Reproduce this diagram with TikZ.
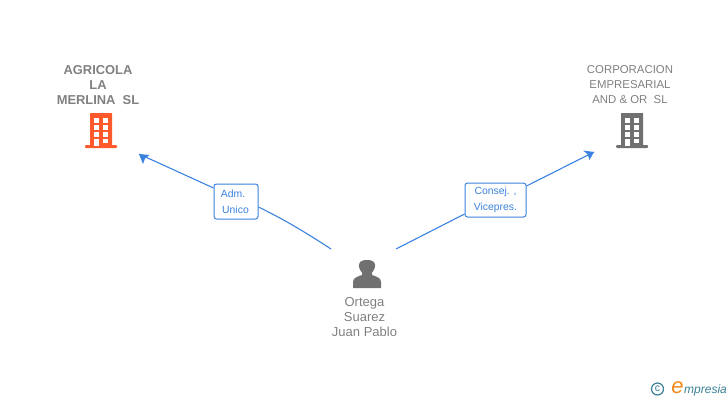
\documentclass[tikz,border=0pt]{standalone}
\usepackage{fontspec}
\setmainfont{Liberation Sans}
\definecolor{linkblue}{HTML}{3B82E0}
\definecolor{txtgrey}{HTML}{808080}
\definecolor{icongrey}{HTML}{707070}
\definecolor{orgorange}{HTML}{FF5A2B}
\definecolor{logoteal}{HTML}{3A7F96}
\definecolor{logoorange}{HTML}{F08A1D}
\tikzset{
  namelabel/.style={align=center,text=txtgrey,font=\fontsize{13}{15}\selectfont,inner sep=0pt},
  rolebox/.style={draw=linkblue,line width=1pt,rounded corners=2.5pt,fill=white,text=linkblue,align=center,font=\fontsize{10.4}{16}\selectfont,inner sep=0pt},
  conn/.style={draw=linkblue,line width=1.1pt},
  tip/.style={fill=linkblue,draw=none}
}
\newcommand{\bldg}[2]{%
  \begin{scope}[shift={(#1,113)}]
    \fill[#2,rounded corners=0.5pt] (5,0) rectangle (27,33);
    \fill[#2,rounded corners=1pt] (0,32) rectangle (32,35);
    \foreach \yy in {5,12,19}{
      \fill[white] (9,\yy) rectangle (14,\yy+4.5);
      \fill[white] (18,\yy) rectangle (23,\yy+4.5);}
    \fill[white] (9,25.5) rectangle (14,33);
    \fill[white] (18,25.5) rectangle (23,29.5);
  \end{scope}}
\begin{document}
\begin{tikzpicture}[x=1pt,y=-1pt]
\useasboundingbox (0,0) rectangle (728,400);
\node[namelabel,font=\bfseries\fontsize{12.9}{15}\selectfont] (agr) at (98,85) {AGRICOLA\\LA\\MERLINA\ \ SL};
\node[namelabel,font=\fontsize{11.4}{15}\selectfont] (corp) at (630,84.5) {CORPORACION\\EMPRESARIAL\\AND \& OR\ \ SL};
\node[namelabel] (per) at (364.5,317) {Ortega\\Suarez\\Juan Pablo};
\bldg{85}{orgorange}
\bldg{616}{icongrey}
% person
\fill[icongrey] (353,288) -- (353,282) .. controls (353,277.5) and (358,276.5) .. (362,275)
  -- (362,272.5) .. controls (359.5,270) and (358.5,266) .. (359,264.5)
  .. controls (359.5,261) and (363,260) .. (367,260)
  .. controls (371,260) and (374.5,261) .. (375,264.5)
  .. controls (375.5,266) and (374.5,270) .. (372,272.5)
  -- (372,275) .. controls (376,276.5) and (381,277.5) .. (381,282) -- (381,288) -- cycle;
% connectors
\coordinate (pl) at (331,249);
\coordinate (pr) at (396,249);
\coordinate (al) at (139,154);
\coordinate (ar) at (594,152);
\node[rolebox,minimum width=44pt,minimum height=35pt] (adm) at (236,201.5) {\hspace*{-6pt}Adm.\\[0pt]\hspace*{-1pt}Unico};
\node[rolebox,minimum width=61pt,minimum height=34pt] (con) at (495.5,200) {Consej. ,\\Vicepres.};
\draw[conn] (pl) .. controls (305,232) and (285,220) .. (adm.east |- 0,207);
\draw[conn] (adm.west |- 0,188) -- (al);
\draw[conn] (pr) -- (con.west |- 0,214);
\draw[conn] (con.east |- 0,186) -- (ar);
\fill[tip] (al) -- (149.5,155) -- (145,158.5) -- (143,164) -- cycle;
\fill[tip] (ar) -- (583,150.5) -- (587.5,154) -- (589.5,160) -- cycle;
% logo
\draw[logoteal,line width=1.2pt] (657.5,389) circle (6pt);
\node[inner sep=0pt,text=logoteal,font=\fontsize{10.5}{10}\selectfont] (cc) at (657.5,388.5) {c};
\node[inner sep=0pt,text=logoorange,font=\itshape\fontsize{22}{22}\selectfont] (le) at (677.5,388) {e};
\node[inner sep=0pt,anchor=base west,text=logoteal,font=\itshape\fontsize{12}{12}\selectfont] (lm) at (684,393) {mpresia};
\end{tikzpicture}
\end{document}
